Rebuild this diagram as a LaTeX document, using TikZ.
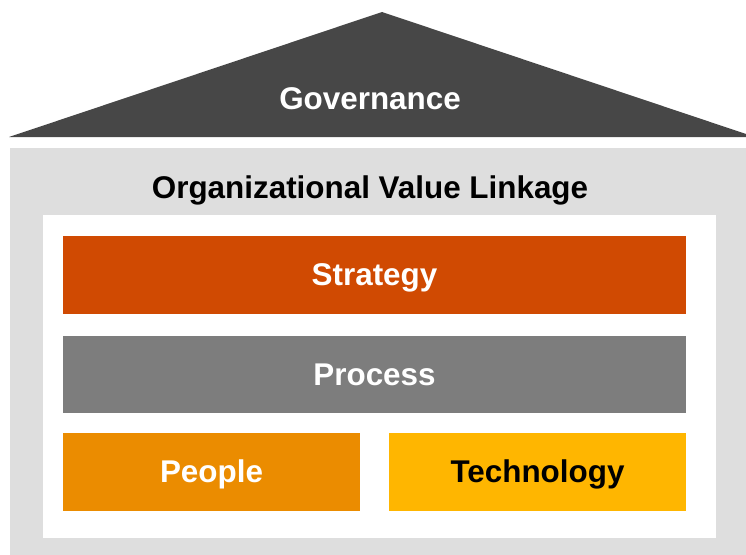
\documentclass[tikz,border=0pt]{standalone}
\usepackage{fontspec}
\setmainfont{Liberation Sans}
\usetikzlibrary{positioning}

\definecolor{roofgray}{HTML}{474747}
\definecolor{wallgray}{HTML}{DEDEDE}
\definecolor{strategyred}{HTML}{D04A02}
\definecolor{processgray}{HTML}{7D7D7D}
\definecolor{peopleorange}{HTML}{EB8C00}
\definecolor{techyellow}{HTML}{FFB600}

\begin{document}
\begin{tikzpicture}[
    x=1pt, y=-1pt,
    label/.style={inner sep=0pt, text height=28.4pt, text depth=6.7pt,
                  font=\fontsize{31.4}{36}\selectfont\bfseries},
    bar/.style={rectangle, fill=#1, inner sep=0pt, minimum height=78pt,
                text height=28.4pt, text depth=6.7pt,
                font=\fontsize{31.4}{36}\selectfont\bfseries},
    wide/.style={minimum width=623pt},
    half/.style={minimum width=297pt}
]
\useasboundingbox (0,0) rectangle (746,554);
% walls and inner panel
\fill[wallgray] (10,148) rectangle (770,570);
\fill[white] (43,215) rectangle (716,538);
% roof
\fill[roofgray] (9,137) -- (382,12) -- (755,137) -- cycle;
\node[label, text=white] (gov) at (370,99) {Governance};
\node[label] (ovl) at (370,188) {Organizational Value Linkage};
% pillars
\node[bar=strategyred, wide, text=white] (strat) at (374.5,275) {Strategy};
\node[bar=processgray, wide, minimum height=77pt, text=white, below=22pt of strat] (proc) {Process};
\node[bar=peopleorange, half, text=white, below=19pt of proc.south west, anchor=north west] (ppl) {People};
\node[bar=techyellow, half, below=19pt of proc.south east, anchor=north east] (tech) {Technology};
\end{tikzpicture}
\end{document}
